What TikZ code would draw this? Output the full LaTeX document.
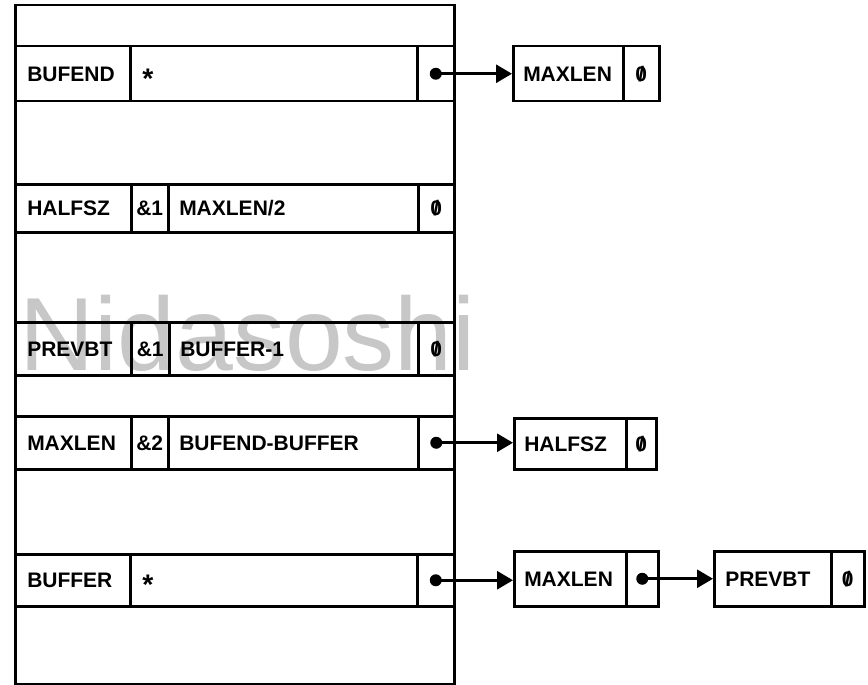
\documentclass[tikz,border=0pt]{standalone}
\usepackage{graphicx}
\usepackage{fontspec}
\setmainfont{Liberation Sans}
\usetikzlibrary{arrows.meta}
\newcommand\zs{\ooalign{0\cr\hidewidth/\hidewidth\cr}}
\newcommand\stark{\raisebox{-7pt}{\scalebox{1.35}{*}}}
% left-aligned cell: name, x1, y1, x2, y2, pad, text
\newcommand\celll[7]{%
  \pgfmathsetmacro\cw{#4-#2-2*#6}\pgfmathsetmacro\ch{#5-#3}%
  \node[cellbox, inner xsep=#6pt, text width=\cw pt, align=left, minimum height=\ch pt] (#1) at (#2,#3) {#7};}
% centered cell: name, x1, y1, x2, y2, text
\newcommand\cellc[6]{%
  \pgfmathsetmacro\cw{#4-#2}\pgfmathsetmacro\ch{#5-#3}%
  \node[cellbox, inner xsep=0pt, align=center, minimum width=\cw pt, minimum height=\ch pt] (#1) at (#2,#3) {#6};}
\begin{document}
\begin{tikzpicture}[x=1pt,y=-1pt,
  cellbox/.style={draw, line width=2.5pt, anchor=north west, inner ysep=0pt,
    text height=15pt, text depth=0pt, font=\fontsize{21}{21}\selectfont\bfseries},
  arr/.style={line width=2.8pt, -{Triangle[length=16pt,width=18pt]}},
  dotr/.style={fill=black}]
\useasboundingbox (0,0) rectangle (868,685);
% watermark
\node[anchor=base west, inner sep=0pt, text=black!22, font=\fontsize{104}{104}\selectfont] (wm) at (19,370) {Nidasoshi};
% frame
\node[draw, line width=2.5pt, anchor=north west, inner sep=0pt, minimum width=439pt, minimum height=679pt] (frame) at (14,4) {};
% BUFEND row
\celll{bufend}{14}{45}{129}{100}{12}{BUFEND}
\celll{bufendv}{129}{45}{416}{100}{12}{\stark}
\cellc{bufendp}{416}{45}{453}{100}{}
% HALFSZ row
\celll{halfsz}{14}{183}{130}{231}{12}{HALFSZ}
\cellc{halfszr}{130}{183}{167}{231}{\&1}
\celll{halfszv}{167}{183}{417}{231}{11}{MAXLEN/2}
\cellc{halfszz}{417}{183}{453}{231}{\zs}
% PREVBT row
\celll{prevbt}{14}{321}{130}{374}{12}{PREVBT}
\cellc{prevbtr}{130}{321}{168}{374}{\&1}
\celll{prevbtv}{168}{321}{417}{374}{11}{BUFFER-1}
\cellc{prevbtz}{417}{321}{453}{374}{\zs}
% MAXLEN row
\celll{maxlen}{14}{415}{130}{468}{12}{MAXLEN}
\cellc{maxlenr}{130}{415}{167}{468}{\&2}
\celll{maxlenv}{167}{415}{417}{468}{11}{BUFEND-BUFFER}
\cellc{maxlenp}{417}{415}{453}{468}{}
% BUFFER row
\celll{buffer}{14}{553}{129}{605}{12}{BUFFER}
\celll{bufferv}{129}{553}{416}{605}{12}{\stark}
\cellc{bufferp}{416}{553}{453}{605}{}
% right-hand boxes
\celll{m1}{512}{45}{622}{100}{10}{MAXLEN}
\cellc{m1z}{622}{45}{658}{100}{\zs}
\celll{h2}{513}{417}{625}{468}{10}{HALFSZ}
\cellc{h2z}{625}{417}{655}{468}{\zs}
\celll{m3}{513}{550}{625}{605}{10}{MAXLEN}
\cellc{m3p}{625}{550}{657}{605}{}
\celll{p4}{713}{550}{830}{605}{11}{PREVBT}
\cellc{p4z}{830}{550}{863}{605}{\zs}
% pointers
\fill[dotr] (bufendp.center) circle (6pt);
\draw[arr] (bufendp.center) -- (bufendp.center -| m1.west);
\fill[dotr] (maxlenp.center) circle (6pt);
\draw[arr] (maxlenp.center) -- (maxlenp.center -| h2.west);
\fill[dotr] (bufferp.center) circle (6pt);
\draw[arr] (bufferp.center) -- (bufferp.center -| m3.west);
\fill[dotr] (m3p.center) circle (6pt);
\draw[arr] (m3p.center) -- (m3p.center -| p4.west);
\end{tikzpicture}
\end{document}
